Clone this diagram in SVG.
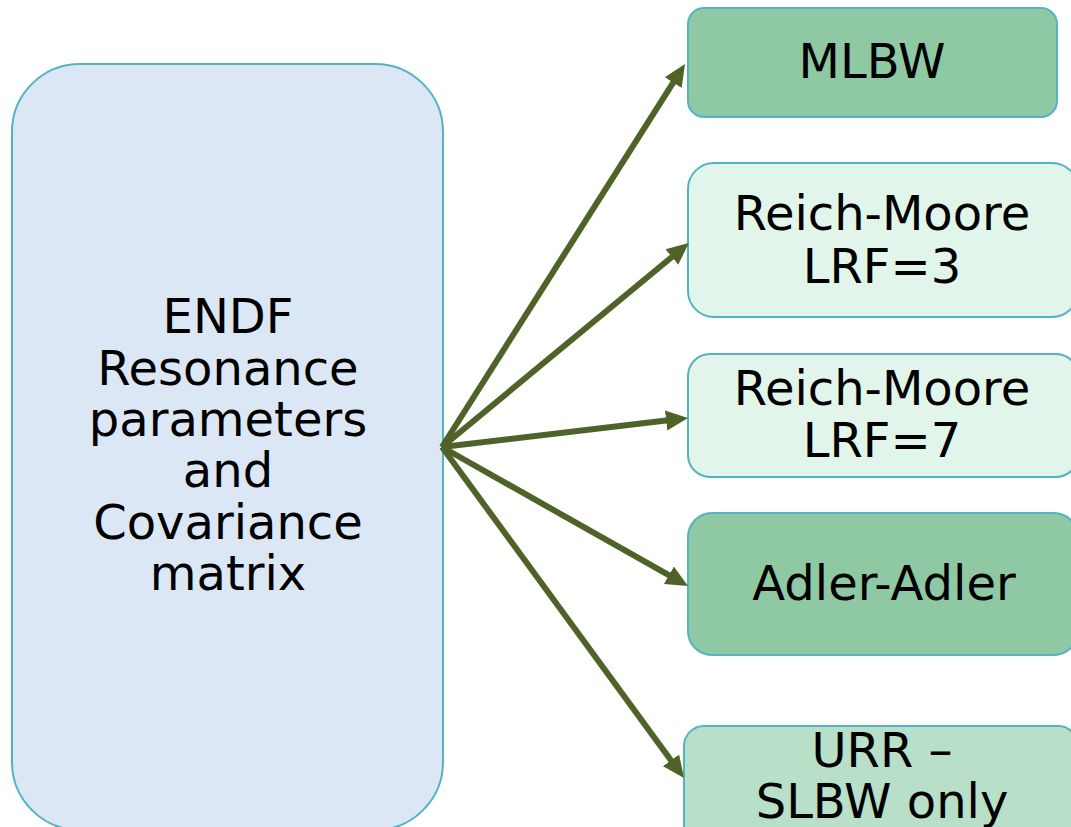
<svg xmlns="http://www.w3.org/2000/svg" width="1071" height="827" viewBox="0 0 1071 827">
  <style>
    .box { stroke: #54b3c3; stroke-width: 2; }
    .src { fill: #dce7f5; }
    .dark { fill: #8fc9a3; }
    .light { fill: #e2f5ea; }
    .mid { fill: #b8dfc7; }
    .lbl { font-family: "DejaVu Sans", "Liberation Sans", sans-serif; font-size: 48px; fill: #000; text-anchor: middle; }
    .conn { stroke: #4f6228; stroke-width: 6; fill: none; marker-end: url(#head); }
  </style>
  <defs>
    <marker id="head" markerUnits="userSpaceOnUse" viewBox="0 -12 24 24" markerWidth="24" markerHeight="24" refX="2" refY="0" orient="auto">
      <path d="M0,-10 L22,0 L0,10 z" fill="#4f6228"/>
    </marker>
  </defs>
  <rect width="1071" height="827" fill="#ffffff"/>

  <g id="endf-source">
    <rect class="box src" x="12" y="64" width="431" height="766" rx="68" ry="68"/>
    <text class="lbl" x="228" y="333">ENDF</text>
    <text class="lbl" x="228" y="385">Resonance</text>
    <text class="lbl" x="228" y="436">parameters</text>
    <text class="lbl" x="228" y="487">and</text>
    <text class="lbl" x="228" y="539">Covariance</text>
    <text class="lbl" x="228" y="590">matrix</text>
  </g>

  <g id="mlbw">
    <rect class="box dark" x="688" y="8" width="369" height="109" rx="16" ry="16"/>
    <text class="lbl" x="872" y="78">MLBW</text>
  </g>

  <g id="reich-moore-lrf3">
    <rect class="box light" x="688" y="163" width="390" height="154" rx="26" ry="26"/>
    <text class="lbl" x="882" y="230">Reich-Moore</text>
    <text class="lbl" x="882" y="283">LRF=3</text>
  </g>

  <g id="reich-moore-lrf7">
    <rect class="box light" x="688" y="354" width="390" height="123" rx="22" ry="22"/>
    <text class="lbl" x="882" y="405">Reich-Moore</text>
    <text class="lbl" x="882" y="457">LRF=7</text>
  </g>

  <g id="adler-adler">
    <rect class="box dark" x="688" y="513" width="390" height="142" rx="24" ry="24"/>
    <text class="lbl" x="884" y="600">Adler-Adler</text>
  </g>

  <g id="urr-slbw">
    <rect class="box mid" x="684" y="726" width="394" height="120" rx="20" ry="20"/>
    <text class="lbl" x="882" y="767">URR –</text>
    <text class="lbl" x="882" y="818">SLBW only</text>
  </g>

  <g id="connectors">
    <line class="conn" x1="442" y1="447" x2="674.3" y2="80.9"/>
    <line class="conn" x1="442" y1="447" x2="673.4" y2="255.8"/>
    <line class="conn" x1="442" y1="447" x2="668.1" y2="420.3"/>
    <line class="conn" x1="442" y1="447" x2="670.6" y2="576.2"/>
    <line class="conn" x1="442" y1="447" x2="672.2" y2="761.9"/>
  </g>
</svg>
